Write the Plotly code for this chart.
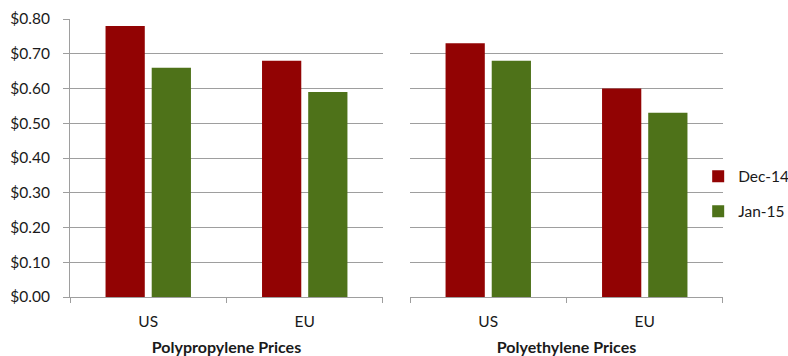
import plotly.graph_objects as go

# Resin price comparison, USD per pound
regions = ["US", "EU"]
pp_dec14 = [0.78, 0.68]
pp_jan15 = [0.66, 0.59]
pe_dec14 = [0.73, 0.60]
pe_jan15 = [0.68, 0.53]
y_ticks = [0.0, 0.1, 0.2, 0.3, 0.4, 0.5, 0.6, 0.7, 0.8]

RED = "#920303"
GREEN = "#4E7219"
GRID = "#9E9E9E"
FONT = "Lato"
TXT = "#1a1a1a"

fig = go.Figure()

series = [
    ("Dec-14", RED, pp_dec14, pe_dec14),
    ("Jan-15", GREEN, pp_jan15, pe_jan15),
]
for name, color, pp, pe in series:
    fig.add_trace(go.Bar(
        x=regions, y=pp, name=name, legendgroup=name,
        marker=dict(color=color, line=dict(width=0)),
        xaxis="x", yaxis="y", showlegend=True,
    ))
    fig.add_trace(go.Bar(
        x=regions, y=pe, name=name, legendgroup=name,
        marker=dict(color=color, line=dict(width=0)),
        xaxis="x2", yaxis="y2", showlegend=False,
    ))

xcommon = dict(
    type="category", showgrid=False, showline=True, linecolor=GRID, linewidth=1,
    ticks="outside", tickson="boundaries", ticklen=5, tickcolor=GRID,
    tickfont=dict(family=FONT, size=15.5, color=TXT),
    ticklabelstandoff=10, zeroline=False, automargin=False,
)
ycommon = dict(
    range=[0, 0.8], tickvals=y_ticks, showgrid=True, gridcolor=GRID, gridwidth=1,
    zeroline=False, automargin=False,
)

fig.update_layout(
    width=788, height=356,
    margin=dict(l=70, r=65, t=19, b=59, autoexpand=False),
    paper_bgcolor="white", plot_bgcolor="white",
    barmode="group", bargap=0.41, bargroupgap=0.15,
    font=dict(family=FONT, size=15.5, color=TXT),
    xaxis=dict(domain=[0, 0.4793], anchor="y",
               title=dict(text="<b>Polypropylene Prices</b>", standoff=14,
                          font=dict(family=FONT, size=16, color=TXT)),
               **xcommon),
    xaxis2=dict(domain=[0.5207, 1], anchor="y2",
                title=dict(text="<b>Polyethylene Prices</b>", standoff=14,
                           font=dict(family=FONT, size=16, color=TXT)),
                **xcommon),
    yaxis=dict(anchor="x", showline=True, linecolor=GRID, linewidth=1,
               ticks="outside", ticklen=6, tickcolor=GRID,
               tickformat="$.2f", ticklabelstandoff=10,
               tickfont=dict(family=FONT, size=15.5, color=TXT),
               **ycommon),
    yaxis2=dict(anchor="x2", matches="y", showline=False, ticks="",
                showticklabels=False, **ycommon),
    legend=dict(x=0.962, y=0.37, xanchor="left", yanchor="middle",
                bgcolor="rgba(0,0,0,0)", tracegroupgap=12,
                font=dict(family=FONT, size=15.5, color=TXT),
                itemwidth=30),
)

fig.write_html("out.html")
